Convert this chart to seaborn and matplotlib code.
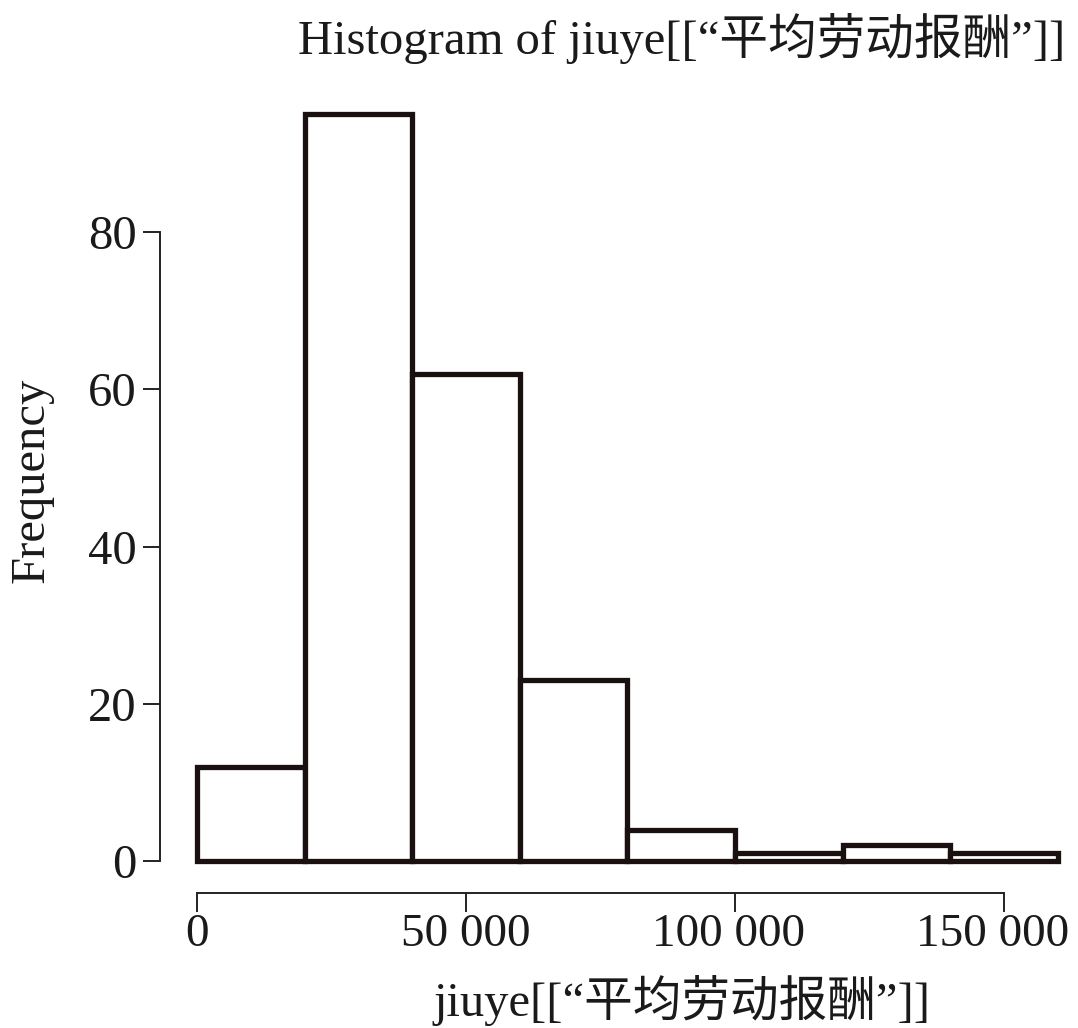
import numpy as np
import matplotlib
matplotlib.use("Agg")
import matplotlib.pyplot as plt
import matplotlib.transforms as mtransforms
import seaborn as sns

# histogram bins (R-style, width 20 000) and counts
bin_edges = [0, 20000, 40000, 60000, 80000, 100000, 120000, 140000, 160000]
counts = [12, 95, 62, 23, 4, 1, 2, 1]
x_ticks = [0, 50000, 100000, 150000]
x_tick_labels = ["0", "50 000", "100 000", "150 000"]
y_ticks = [0, 20, 40, 60, 80]

sns.set_theme(style="white")
plt.rcParams['font.family'] = ['Liberation Serif', 'Noto Sans CJK SC']

centers = [(a + b) / 2 for a, b in zip(bin_edges[:-1], bin_edges[1:])]

fig = plt.figure(figsize=(10.78, 10.28), dpi=100)
W, H = 1078, 1028
# axes box in pixels: x 160..1070, y 100..893 (top..bottom)
ax = fig.add_axes([160 / W, 1 - 893 / H, (1070 - 160) / W, (893 - 100) / H])

sns.histplot(x=centers, weights=counts, bins=bin_edges, ax=ax,
             color="white", edgecolor="#1a1010", linewidth=3.8, alpha=1)

ax.set_xlim(-6877, 162268)
ax.set_ylim(-4.07, 96.8)

sns.despine(ax=ax)
ax.spines['left'].set_bounds(0, 80)
ax.spines['bottom'].set_bounds(0, 150000)
for s in ['left', 'bottom']:
    ax.spines[s].set_color("#222222")
    ax.spines[s].set_linewidth(1.4)

ax.set_xticks(x_ticks, x_tick_labels)
ax.set_yticks(y_ticks)
ax.tick_params(axis='both', which='both', direction='out', colors="#222222",
               labelcolor="#1a1a1a", labelsize=35, width=1.4)
ax.tick_params(axis='x', length=14, pad=1, bottom=True, labelsize=34)
ax.tick_params(axis='y', length=12, pad=5, left=True)

# the wide labels on the right sit a little left of their ticks, as in the original
shifts = [0, 0, -6, -11]
for lab, dx in zip(ax.get_xticklabels(), shifts):
    lab.set_transform(lab.get_transform() +
                      mtransforms.ScaledTranslation(dx / 100, 0, fig.dpi_scale_trans))

ax.set_xlabel("")
ax.set_ylabel("")
fig.text(682 / W, 1 - 1000 / H, 'jiuye[[“平均劳动报酬”]]',
         fontsize=35, color="#1a1a1a", ha="center", va="center")
fig.text(32 / W, 1 - 480 / H, "Frequency", rotation=90,
         fontsize=35, color="#1a1a1a", ha="center", va="center")
fig.text(682 / W, 1 - 38 / H, 'Histogram of jiuye[[“平均劳动报酬”]]',
         fontsize=35, color="#1a1a1a", ha="center", va="center")

fig.savefig("out.png", dpi=100, facecolor="white")
